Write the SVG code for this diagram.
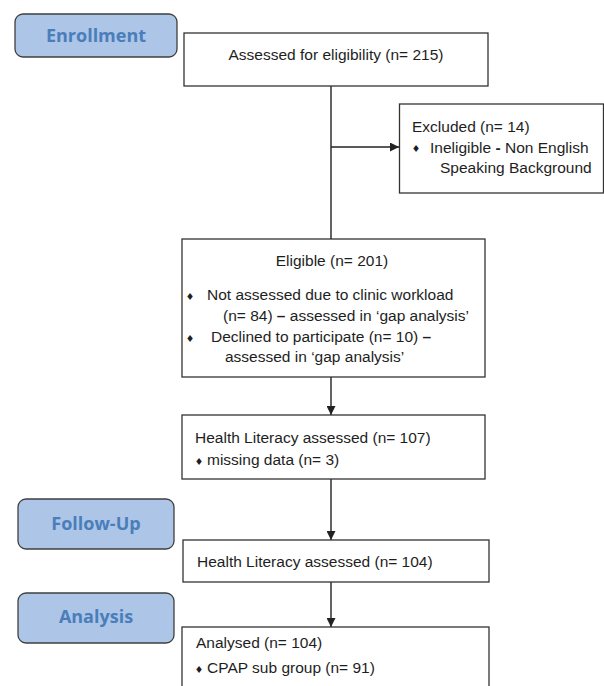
<svg xmlns="http://www.w3.org/2000/svg" width="604" height="686" viewBox="0 0 604 686">
<defs>
<style>
.stage{fill:#adc5e6;stroke:#3f3f3f;stroke-width:1.3}
.stxt{font-family:"Open Sans","Liberation Sans",sans-serif;font-weight:bold;font-size:18px;fill:#4a7ebb;text-anchor:middle}
.box{fill:#ffffff;stroke:#333333;stroke-width:1.3}
.t{font-family:"Liberation Sans",Arial,sans-serif;font-size:15.5px;fill:#1e1e1e}
.b{font-family:"DejaVu Sans",sans-serif;font-size:9.5px;fill:#1e1e1e;text-anchor:middle}
.c{stroke:#222222;stroke-width:1.4;fill:none}
</style>
<marker id="ah" viewBox="0 0 10 10" refX="10" refY="5" markerWidth="9" markerHeight="9" markerUnits="userSpaceOnUse" orient="auto">
<path d="M0,0 L10,5 L0,10 z" fill="#222222"/>
</marker>
</defs>
<rect width="604" height="686" fill="#ffffff"/>

<g id="stage-enrollment">
<rect class="stage" x="15" y="14" width="162" height="43" rx="8"/>
<text class="stxt" x="96" y="42">Enrollment</text>
</g>
<g id="stage-followup">
<rect class="stage" x="18" y="499" width="156" height="50" rx="8"/>
<text class="stxt" x="96" y="530">Follow-Up</text>
</g>
<g id="stage-analysis">
<rect class="stage" x="18" y="593" width="156" height="50" rx="8"/>
<text class="stxt" x="96" y="623">Analysis</text>
</g>

<g id="connectors">
<line class="c" x1="331" y1="86" x2="331" y2="239"/>
<line class="c" x1="331" y1="147" x2="399" y2="147" marker-end="url(#ah)"/>
<line class="c" x1="331" y1="377" x2="331" y2="415" marker-end="url(#ah)"/>
<line class="c" x1="331" y1="479" x2="331" y2="540" marker-end="url(#ah)"/>
<line class="c" x1="331" y1="582" x2="331" y2="627" marker-end="url(#ah)"/>
</g>

<g id="assessed">
<rect class="box" x="184" y="33" width="304" height="53"/>
<text class="t" x="336" y="60" text-anchor="middle">Assessed for eligibility (n= 215)</text>
</g>

<g id="excluded">
<rect class="box" x="399.5" y="104" width="204" height="89"/>
<text class="t" x="412" y="132">Excluded (n= 14)</text>
<text class="b" x="416" y="152">♦</text>
<text class="t" x="430" y="153">Ineligible <tspan font-weight="bold">-</tspan> Non English</text>
<text class="t" x="440" y="173">Speaking Background</text>
</g>

<g id="eligible">
<rect class="box" x="182" y="239" width="303" height="138"/>
<text class="t" x="332" y="266" text-anchor="middle">Eligible (n= 201)</text>
<text class="b" x="190" y="300">♦</text>
<text class="t" x="207" y="300">Not assessed due to clinic workload</text>
<text class="t" x="223" y="321">(n= 84) <tspan font-weight="bold">–</tspan> assessed in ‘gap analysis’</text>
<text class="b" x="190" y="342">♦</text>
<text class="t" x="211" y="342">Declined to participate (n= 10) <tspan font-weight="bold">–</tspan></text>
<text class="t" x="225" y="362">assessed in ‘gap analysis’</text>
</g>

<g id="hl107">
<rect class="box" x="182" y="415" width="303" height="64"/>
<text class="t" x="195" y="443">Health Literacy assessed (n= 107)</text>
<text class="b" x="199" y="465">♦</text>
<text class="t" x="207" y="465">missing data (n= 3)</text>
</g>

<g id="hl104">
<rect class="box" x="183" y="540" width="306" height="42"/>
<text class="t" x="197" y="567">Health Literacy assessed (n= 104)</text>
</g>

<g id="analysed">
<rect class="box" x="182" y="627" width="307" height="80"/>
<text class="t" x="196" y="648">Analysed (n= 104)</text>
<text class="b" x="199" y="673">♦</text>
<text class="t" x="207" y="673">CPAP sub group (n= 91)</text>
</g>
</svg>
